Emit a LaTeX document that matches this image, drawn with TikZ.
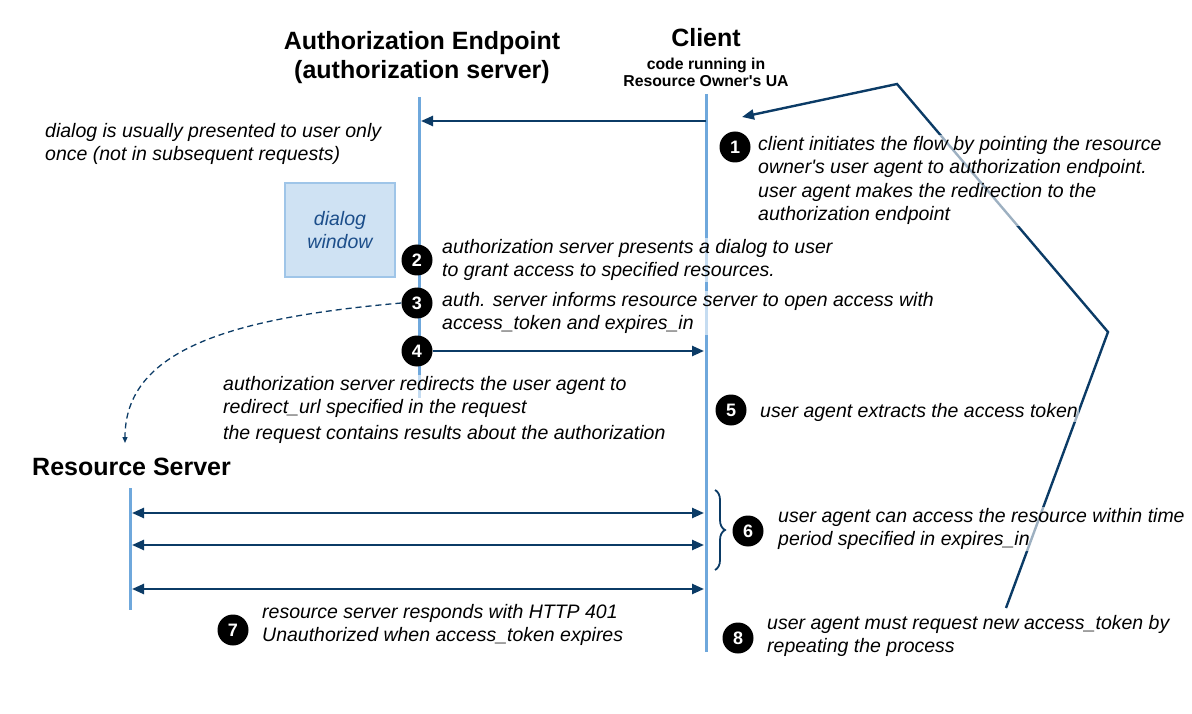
\documentclass[tikz,border=0pt]{standalone}
\usepackage{fontspec}
\setmainfont{Liberation Sans}
\usetikzlibrary{arrows.meta,decorations.pathreplacing,positioning}
\definecolor{navy}{HTML}{0B3B66}
\definecolor{lifeblue}{HTML}{6FA8DC}
\definecolor{boxfill}{HTML}{CFE2F3}
\definecolor{boxline}{HTML}{9FC5E8}
\definecolor{dialogtext}{HTML}{1C4E8A}

\begin{document}
\begin{tikzpicture}[x=1pt,y=-1pt,>={Triangle[length=12pt,width=10pt]},
  lifeline/.style={draw=lifeblue,line width=3pt},
  msg/.style={draw=navy,line width=2.4pt},
  num node/.style={circle,fill=black,text=white,inner sep=0pt,minimum size=31pt,font=\bfseries\fontsize{18}{18}\selectfont},
  remark/.style={anchor=north west,align=left,inner sep=1pt,fill=white,fill opacity=0.6,text opacity=1,font=\itshape\fontsize{19.5}{23.5}\selectfont},
  heading/.style={inner sep=0pt,font=\bfseries\fontsize{25}{29}\selectfont}]

  \useasboundingbox (0,0) rectangle (1192,714);

  % lifelines
  \coordinate (auth top) at (419,97);    \coordinate (auth bottom) at (419,398);
  \coordinate (client top) at (706,94);  \coordinate (client bottom) at (706,652);
  \coordinate (rs top) at (130,488);     \coordinate (rs bottom) at (130,610);
  \draw[lifeline] (auth top) -- (auth bottom);
  \draw[lifeline] (client top) -- (client bottom);
  \draw[lifeline] (rs top) -- (rs bottom);

  % repeat loop
  \coordinate (loop start) at (1006,608);
  \coordinate (loop right) at (1108,332);
  \coordinate (loop top) at (897,84);
  \coordinate (loop end) at (742,117);
  \draw[msg,->] (loop start) -- (loop right) -- (loop top) -- (loop end);

  % headings
  \node[heading,align=center,anchor=north] (auth) at (422,31) {Authorization Endpoint\\(authorization server)};
  \node[heading,anchor=base] (client) at (706,47) {Client};
  \node[inner sep=0pt,align=center,anchor=north,font=\bfseries\fontsize{15.8}{17}\selectfont] (ua) at (706,58) {code running in\\Resource Owner\textquotesingle s UA};
  \node[heading,anchor=base west] (rs) at (32,475) {Resource Server};

  % remarks
  \node[remark] (once) at (44,122) {dialog is usually presented to user only\\once (not in subsequent requests)};
  \node[remark] (t1) at (757,135) {client initiates the flow by pointing the resource\\owner\textquotesingle s user agent to authorization endpoint.\\user agent makes the redirection to the\\authorization endpoint};
  \node[remark] (t2) at (441,238) {authorization server presents a dialog to user\\to grant access to specified resources.};
  \node[remark] (t3) at (441,291) {auth. server informs resource server to open access with\\access\_token and expires\_in};
  \node[remark] (t4) at (222,375) {authorization server redirects the user agent to\\redirect\_url specified in the request\\[2pt]the request contains results about the authorization};
  \node[remark] (t5) at (759,402) {user agent extracts the access token};
  \node[remark] (t6) at (777,507) {user agent can access the resource within time\\period specified in expires\_in};
  \node[remark] (t7) at (261,603) {resource server responds with HTTP 401\\Unauthorized when access\_token expires};
  \node[remark] (t8) at (766,614) {user agent must request new access\_token by\\repeating the process};

  \node[draw=boxline,fill=boxfill,line width=1.5pt,minimum width=110pt,minimum height=94pt,
        text=dialogtext,align=center,font=\itshape\fontsize{19.5}{23.5}\selectfont] (dialog) at (340,230) {dialog\\window};

  % numbered steps
  \node[num node] (n1) at (735,147) {1};
  \node[num node] (n2) at (417,260) {2};
  \node[num node] (n3) at (417,303) {3};
  \node[num node] (n4) at (417,351) {4};
  \node[num node] (n5) at (731,410) {5};
  \node[num node] (n6) at (748,531) {6};
  \node[num node] (n7) at (233,630) {7};
  \node[num node] (n8) at (738,638) {8};

  % messages
  \coordinate (a1 start) at (706,121); \coordinate (a1 end) at (421,121);
  \draw[msg,->] (a1 start) -- (a1 end);
  \coordinate (a4 end) at (704,351);
  \draw[msg,->] (n4) -- (a4 end);
  \foreach \y/\n in {513/1,545/2,589/3}{
    \coordinate (rs \n) at (132,\y);
    \coordinate (ua \n) at (704,\y);
    \draw[msg,<->] (rs \n) -- (ua \n);
  }
  \coordinate (rs in) at (125,443);
  \draw[navy,line width=1.3pt,dash pattern=on 6pt off 4pt,-{Triangle[length=6pt,width=5pt]}]
    (n3.west) .. controls (230,318) and (125,350) .. (rs in);

  \coordinate (brace top) at (715,490); \coordinate (brace bottom) at (715,570);
  \draw[navy,line width=1.8pt,decorate,decoration={brace,amplitude=10pt}] (brace top) -- (brace bottom);
\end{tikzpicture}
\end{document}
